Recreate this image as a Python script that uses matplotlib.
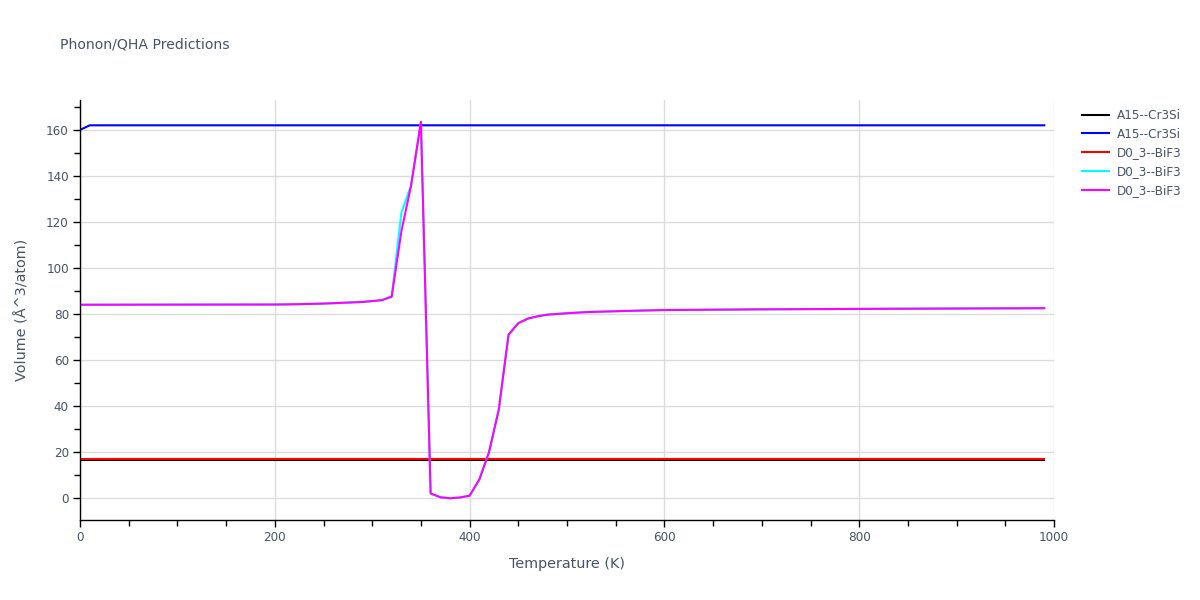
import matplotlib
matplotlib.use("Agg")
import matplotlib.pyplot as plt
from matplotlib.ticker import MultipleLocator

# ---- data ----
t_flat = [0, 10, 990]
v_a15_black = [16.3, 16.3, 16.3]
v_a15_blue = [160.0, 162.0, 162.0]
v_d03_red = [16.8, 16.8, 16.8]

t_bif3 = [0, 200, 220, 250, 290, 310, 320, 330, 340, 350, 360, 370, 380, 390,
          400, 410, 420, 430, 440, 450, 460, 470, 480, 500, 520, 560, 600,
          700, 800, 990]
v_bif3_cyan = [84.0, 84.1, 84.2, 84.5, 85.2, 86.0, 87.5, 124.0, 136.0, 163.0,
               2.0, 0.3, -0.1, 0.2, 1.0, 8.0, 20.0, 38.5, 71.0, 76.0, 78.0,
               79.0, 79.7, 80.3, 80.8, 81.3, 81.7, 82.0, 82.2, 82.5]
v_bif3_magenta = [84.0, 84.1, 84.2, 84.5, 85.2, 86.0, 87.5, 116.0, 136.0, 163.5,
                  2.0, 0.3, -0.1, 0.2, 1.0, 8.0, 20.0, 38.5, 71.0, 76.0, 78.0,
                  79.0, 79.7, 80.3, 80.8, 81.3, 81.7, 82.0, 82.2, 82.5]

labels = ["A15--Cr3Si", "A15--Cr3Si", "D0_3--BiF3", "D0_3--BiF3", "D0_3--BiF3"]
colors = ["black", "blue", "red", "cyan", "magenta"]

plt.rcParams['font.family'] = ['DejaVu Sans']
text_color = "#46536b"

fig = plt.figure(figsize=(12, 6), dpi=100)
ax = fig.add_axes([80/1200, 1-520/600, (1054-80)/1200, (520-100)/600])

series = [(t_flat, v_a15_black), (t_flat, v_a15_blue), (t_flat, v_d03_red),
          (t_bif3, v_bif3_cyan), (t_bif3, v_bif3_magenta)]
for (t, v), lab, c in zip(series, labels, colors):
    ax.plot(t, v, color=c, lw=1.5, label=lab)

ax.set_xlim(0, 1000)
ax.set_ylim(-9.57, 173.0)
ax.xaxis.set_major_locator(MultipleLocator(200))
ax.xaxis.set_minor_locator(MultipleLocator(50))
ax.yaxis.set_major_locator(MultipleLocator(20))
ax.yaxis.set_minor_locator(MultipleLocator(10))
ax.grid(True, which='major', color='#dcdcdc', lw=1)
ax.set_axisbelow(True)
for s in ['top', 'right']:
    ax.spines[s].set_visible(False)
for s in ['left', 'bottom']:
    ax.spines[s].set_color('black')
    ax.spines[s].set_linewidth(1)
ax.tick_params(which='both', direction='out', color='black', labelsize=8.64,
               labelcolor=text_color)
ax.tick_params(which='major', length=5, width=1, pad=3)
ax.tick_params(which='minor', length=4, width=1)

ax.set_xlabel("Temperature (K)", fontsize=10.4, color=text_color, labelpad=9)
ax.set_ylabel("Volume (Å^3/atom)", fontsize=10.4, color=text_color, labelpad=12)

fig.text(60/1200, 1-45/600, "Phonon/QHA Predictions", fontsize=10.1,
         color=text_color, va='center', ha='left')

leg = ax.legend(loc='upper left', bbox_to_anchor=(1077/1200, 1-104/600),
                bbox_transform=fig.transFigure, frameon=False, fontsize=8.64,
                handlelength=2.3, labelspacing=0.48, handletextpad=0.6,
                borderaxespad=0)
for txt in leg.get_texts():
    txt.set_color(text_color)

fig.savefig("out.png", dpi=100)
